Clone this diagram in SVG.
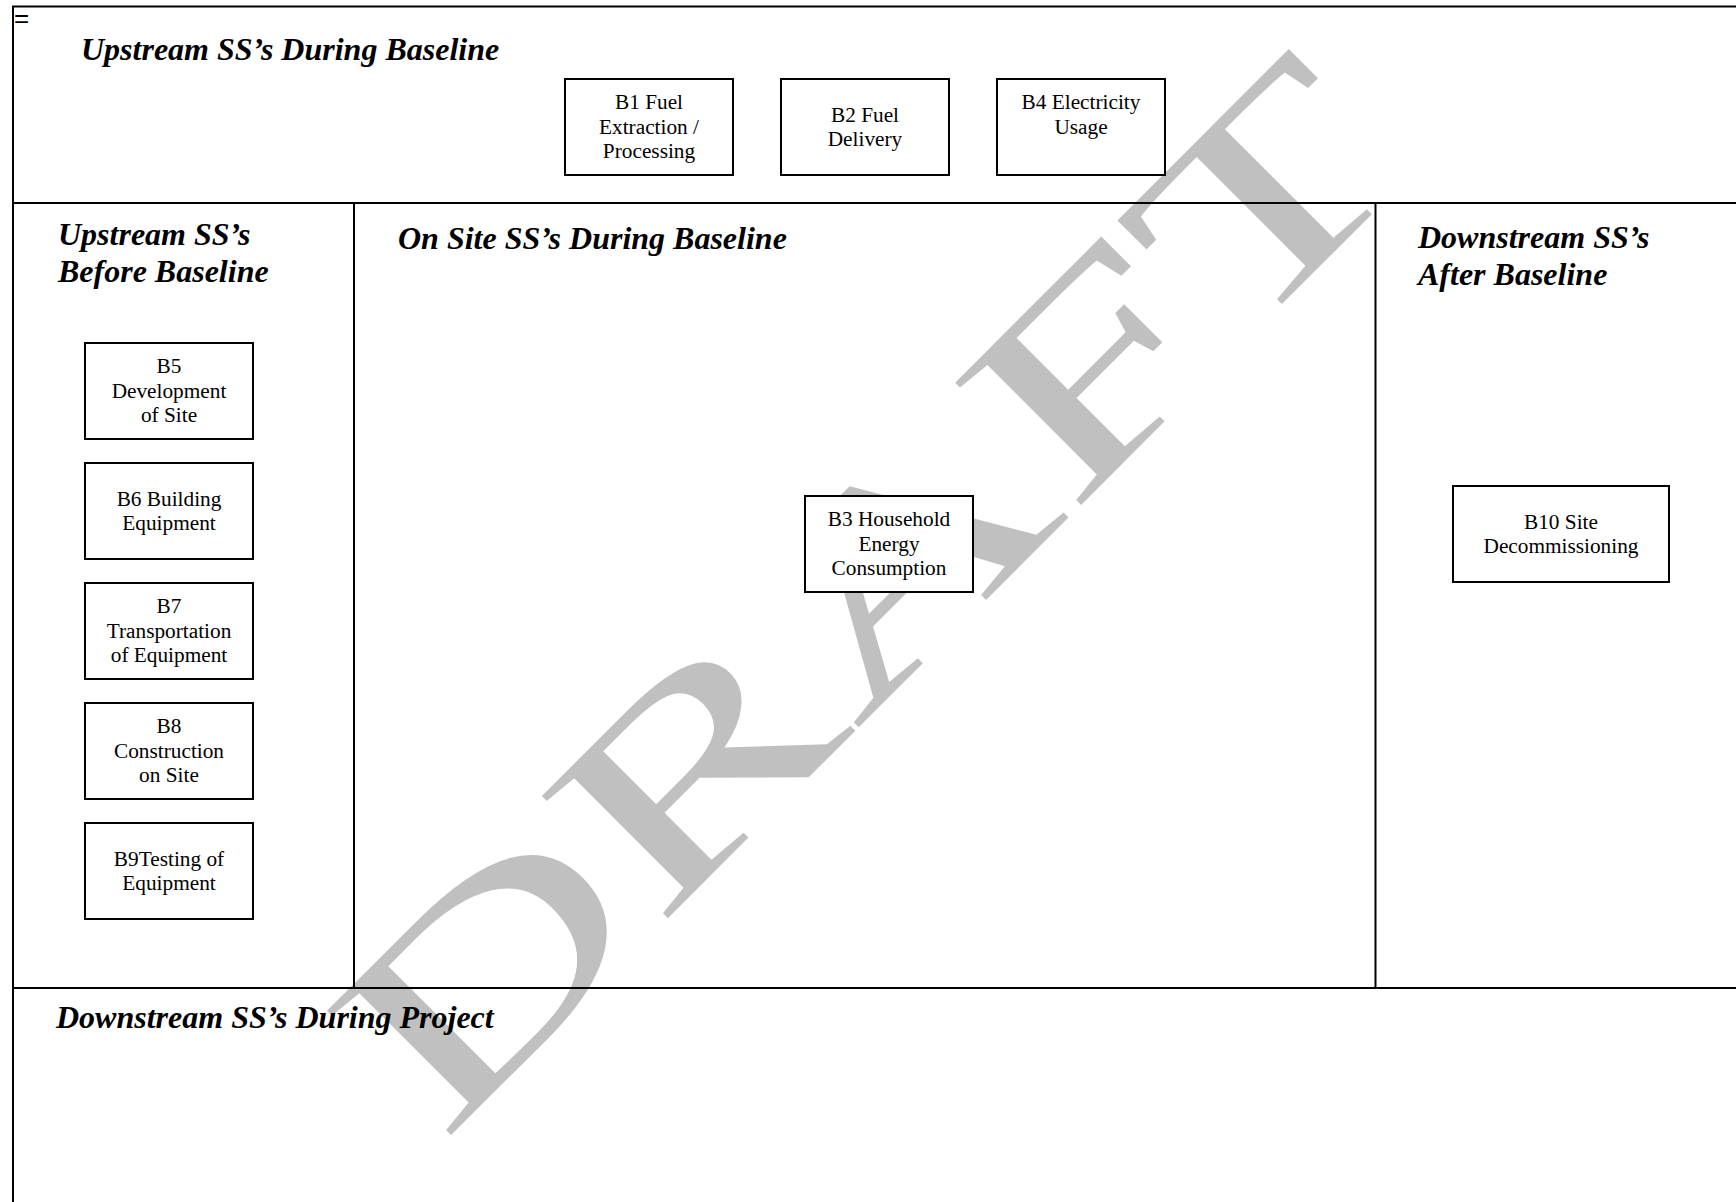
<svg xmlns="http://www.w3.org/2000/svg" width="1736" height="1202" viewBox="0 0 1736 1202">
<style>
.frame{stroke:#000;stroke-width:2;fill:none}
.box{fill:#fff;stroke:#000;stroke-width:2}
.lbl{font-family:"Liberation Serif","Times New Roman",serif;font-size:21.3px;fill:#000;text-anchor:middle}
.sec{font-family:"Liberation Serif","Times New Roman",serif;font-size:32px;font-weight:bold;font-style:italic;fill:#000}
.wm{font-family:"Liberation Serif","Times New Roman",serif;font-size:268px;fill:#c0c0c0}
</style>
<rect x="0" y="0" width="1736" height="1202" fill="#fff"/>
<text class="wm" transform="translate(442.5,1143.5) rotate(-45) scale(1.57,1)">DRAFT</text>
<g id="frame">
<line class="frame" x1="12" y1="6.5" x2="1736" y2="6.5"/>
<line class="frame" x1="13" y1="6" x2="13" y2="1202"/>
<line class="frame" x1="13" y1="203" x2="1736" y2="203"/>
<line class="frame" x1="13" y1="988" x2="1736" y2="988"/>
<line class="frame" x1="354" y1="203" x2="354" y2="988"/>
<line class="frame" x1="1375.5" y1="203" x2="1375.5" y2="988"/>
<text x="14" y="27" style="font-family:'Liberation Sans',Arial,sans-serif;font-size:26px;fill:#000">=</text>
</g>
<g id="titles">
<text class="sec" x="81" y="60">Upstream SS’s During Baseline</text>
<text class="sec" x="58" y="245">Upstream SS’s</text>
<text class="sec" x="58" y="282">Before Baseline</text>
<text class="sec" x="398" y="249">On Site SS’s During Baseline</text>
<text class="sec" x="1418" y="247.5">Downstream SS’s</text>
<text class="sec" x="1418" y="284.5">After Baseline</text>
<text class="sec" x="56" y="1028">Downstream SS’s During Project</text>
</g>
<g id="connectors"></g>
<g id="B1"><rect class="box" x="565" y="79" width="168" height="96"/><text class="lbl" x="649" y="109">B1 Fuel</text><text class="lbl" x="649" y="133.5">Extraction /</text><text class="lbl" x="649" y="158">Processing</text></g>
<g id="B2"><rect class="box" x="781" y="79" width="168" height="96"/><text class="lbl" x="865" y="121.75">B2 Fuel</text><text class="lbl" x="865" y="146">Delivery</text></g>
<g id="B4"><rect class="box" x="997" y="79" width="168" height="96"/><text class="lbl" x="1081" y="109">B4 Electricity</text><text class="lbl" x="1081" y="133.5">Usage</text></g>
<g id="B3"><rect class="box" x="805" y="496" width="168" height="96"/><text class="lbl" x="889" y="526">B3 Household</text><text class="lbl" x="889" y="550.5">Energy</text><text class="lbl" x="889" y="575">Consumption</text></g>
<g id="B10"><rect class="box" x="1453" y="486" width="216" height="96"/><text class="lbl" x="1561" y="528.75">B10 Site</text><text class="lbl" x="1561" y="553">Decommissioning</text></g>
<g id="B5"><rect class="box" x="85" y="343" width="168" height="96"/><text class="lbl" x="169" y="373">B5</text><text class="lbl" x="169" y="397.5">Development</text><text class="lbl" x="169" y="422">of Site</text></g>
<g id="B6"><rect class="box" x="85" y="463" width="168" height="96"/><text class="lbl" x="169" y="505.75">B6 Building</text><text class="lbl" x="169" y="530">Equipment</text></g>
<g id="B7"><rect class="box" x="85" y="583" width="168" height="96"/><text class="lbl" x="169" y="613">B7</text><text class="lbl" x="169" y="637.5">Transportation</text><text class="lbl" x="169" y="662">of Equipment</text></g>
<g id="B8"><rect class="box" x="85" y="703" width="168" height="96"/><text class="lbl" x="169" y="733">B8</text><text class="lbl" x="169" y="757.5">Construction</text><text class="lbl" x="169" y="782">on Site</text></g>
<g id="B9"><rect class="box" x="85" y="823" width="168" height="96"/><text class="lbl" x="169" y="865.75">B9Testing of</text><text class="lbl" x="169" y="890">Equipment</text></g>
</svg>
